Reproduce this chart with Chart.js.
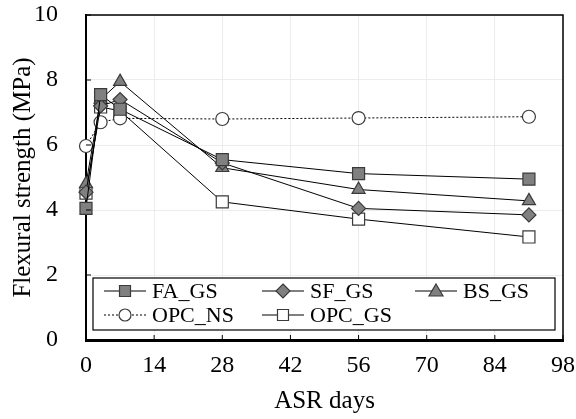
<!DOCTYPE html>
<html>
<head>
<meta charset="utf-8">
<script src="https://cdn.jsdelivr.net/npm/chart.js@4/dist/chart.umd.min.js"></script>
<style>
  html, body { margin: 0; padding: 0; background: #fff; }
  #wrap { width: 576px; height: 419px; }
</style>
</head>
<body>
<div id="wrap"><canvas id="strengthChart" width="576" height="419"></canvas></div>
<script>
const days = [0, 3, 7, 28, 56, 91];
const faGS = [4.05, 7.55, 7.1, 5.55, 5.12, 4.95];
const sfGS = [4.55, 7.2, 7.4, 5.45, 4.05, 3.85];
const bsGS = [4.8, 7.4, 7.95, 5.3, 4.63, 4.28];
const opcNS = [5.97, 6.7, 6.82, 6.8, 6.83, 6.87];
const opcGS = [4.52, 7.17, 7.05, 4.25, 3.72, 3.17];

const xTicks = [0, 14, 28, 42, 56, 70, 84, 98];
const yTicks = [0, 2, 4, 6, 8, 10];

const FONT = '"Liberation Serif", "Times New Roman", serif';
const GRAY = "#808080";
const EDGE = "#3a3a3a";

const points = (vals) => vals.map((v, i) => ({ x: days[i], y: v }));

const series = (label, vals, style, radius, fill, dash) => ({
    label: label,
    data: points(vals),
    borderColor: "#000",
    borderWidth: 1,
    borderDash: dash || [],
    pointStyle: style,
    pointRadius: radius,
    pointHoverRadius: radius,
    pointBackgroundColor: fill,
    pointBorderColor: EDGE,
    pointBorderWidth: 1.2,
    tension: 0,
    clip: false,
});

// legend drawn inside the plot, with a line through each marker
function drawMarker(ctx, style, x, y, fill) {
    ctx.save();
    ctx.fillStyle = fill;
    ctx.strokeStyle = EDGE;
    ctx.lineWidth = 1.2;
    ctx.beginPath();
    if (style === "rect") {
        ctx.rect(x - 5.5, y - 5.5, 11, 11);
    } else if (style === "rectRot") {
        ctx.moveTo(x, y - 7);
        ctx.lineTo(x + 7, y);
        ctx.lineTo(x, y + 7);
        ctx.lineTo(x - 7, y);
        ctx.closePath();
    } else if (style === "triangle") {
        ctx.moveTo(x, y - 7);
        ctx.lineTo(x + 7, y + 5);
        ctx.lineTo(x - 7, y + 5);
        ctx.closePath();
    } else {
        ctx.arc(x, y, 6, 0, Math.PI * 2);
    }
    ctx.fill();
    ctx.stroke();
    ctx.restore();
}

const framePlugin = {
    id: "frame",
    afterDraw(chart) {
        const { ctx, chartArea: a, scales } = chart;
        ctx.save();
        // top and right border
        ctx.strokeStyle = "#000";
        ctx.lineWidth = 1.5;
        ctx.beginPath();
        ctx.moveTo(a.left, a.top);
        ctx.lineTo(a.right, a.top);
        ctx.lineTo(a.right, a.bottom);
        ctx.stroke();
        // inner ticks
        ctx.lineWidth = 1;
        ctx.beginPath();
        yTicks.forEach((v) => {
            const py = scales.y.getPixelForValue(v);
            ctx.moveTo(a.left, py);
            ctx.lineTo(a.left + 5, py);
        });
        xTicks.forEach((v) => {
            const px = scales.x.getPixelForValue(v);
            ctx.moveTo(px, a.bottom);
            ctx.lineTo(px, a.bottom - 5);
        });
        ctx.stroke();

        // legend box
        const box = { left: 93, top: 278, right: 555, bottom: 330 };
        ctx.fillStyle = "#fff";
        ctx.fillRect(box.left, box.top, box.right - box.left, box.bottom - box.top);
        ctx.strokeStyle = "#000";
        ctx.lineWidth = 1.2;
        ctx.strokeRect(box.left, box.top, box.right - box.left, box.bottom - box.top);

        const cols = [104, 262, 415];
        const rows = [291, 315];
        ctx.font = "22px " + FONT;
        ctx.textBaseline = "middle";
        ctx.textAlign = "left";
        chart.data.datasets.forEach((ds, i) => {
            const x0 = cols[i % 3];
            const y0 = rows[Math.floor(i / 3)];
            ctx.save();
            ctx.strokeStyle = "#000";
            ctx.lineWidth = 1;
            ctx.setLineDash(ds.borderDash);
            ctx.beginPath();
            ctx.moveTo(x0, y0);
            ctx.lineTo(x0 + 42, y0);
            ctx.stroke();
            ctx.restore();
            drawMarker(ctx, ds.pointStyle, x0 + 21, y0, ds.pointBackgroundColor);
            ctx.fillStyle = "#000";
            ctx.fillText(ds.label, x0 + 48, y0 + 1);
        });
        ctx.restore();
    },
};

new Chart(document.getElementById("strengthChart"), {
    type: "line",
    data: {
        datasets: [
            series("FA_GS", faGS, "rect", 8.5, GRAY),
            series("SF_GS", sfGS, "rectRot", 7, GRAY),
            series("BS_GS", bsGS, "triangle", 7.5, GRAY),
            series("OPC_NS", opcNS, "circle", 6.5, "#fff", [2, 2]),
            series("OPC_GS", opcGS, "rect", 8.5, "#fff"),
        ],
    },
    options: {
        responsive: false,
        animation: false,
        layout: { padding: { top: 15, right: 13, left: 0, bottom: 0 } },
        plugins: {
            legend: { display: false },
            tooltip: { enabled: false },
        },
        scales: {
            x: {
                type: "linear",
                min: 0,
                max: 98,
                afterFit: (s) => {
                    s.height = 79;
                    s.paddingLeft = 0;
                    s.paddingRight = 0;
                },
                afterBuildTicks: (s) => { s.ticks = xTicks.map((v) => ({ value: v })); },
                grid: { color: "#ececec", drawTicks: false },
                border: { color: "#000", width: 3 },
                ticks: { color: "#000", padding: 11, font: { family: FONT, size: 24 } },
                title: {
                    display: true,
                    text: "ASR days",
                    color: "#000",
                    padding: { top: 0, bottom: 3 },
                    font: { family: FONT, size: 25 },
                },
            },
            y: {
                min: 0,
                max: 10,
                afterFit: (s) => {
                    s.width = 86;
                    s.paddingTop = 0;
                    s.paddingBottom = 0;
                },
                afterBuildTicks: (s) => { s.ticks = yTicks.map((v) => ({ value: v })); },
                grid: { color: "#ececec", drawTicks: false },
                border: { color: "#000", width: 2 },
                ticks: { color: "#000", padding: 28, font: { family: FONT, size: 24 } },
                title: {
                    display: true,
                    text: "Flexural strength (MPa)",
                    color: "#000",
                    padding: { top: 8, bottom: 0 },
                    font: { family: FONT, size: 25 },
                },
            },
        },
    },
    plugins: [framePlugin],
});
</script>
</body>
</html>
